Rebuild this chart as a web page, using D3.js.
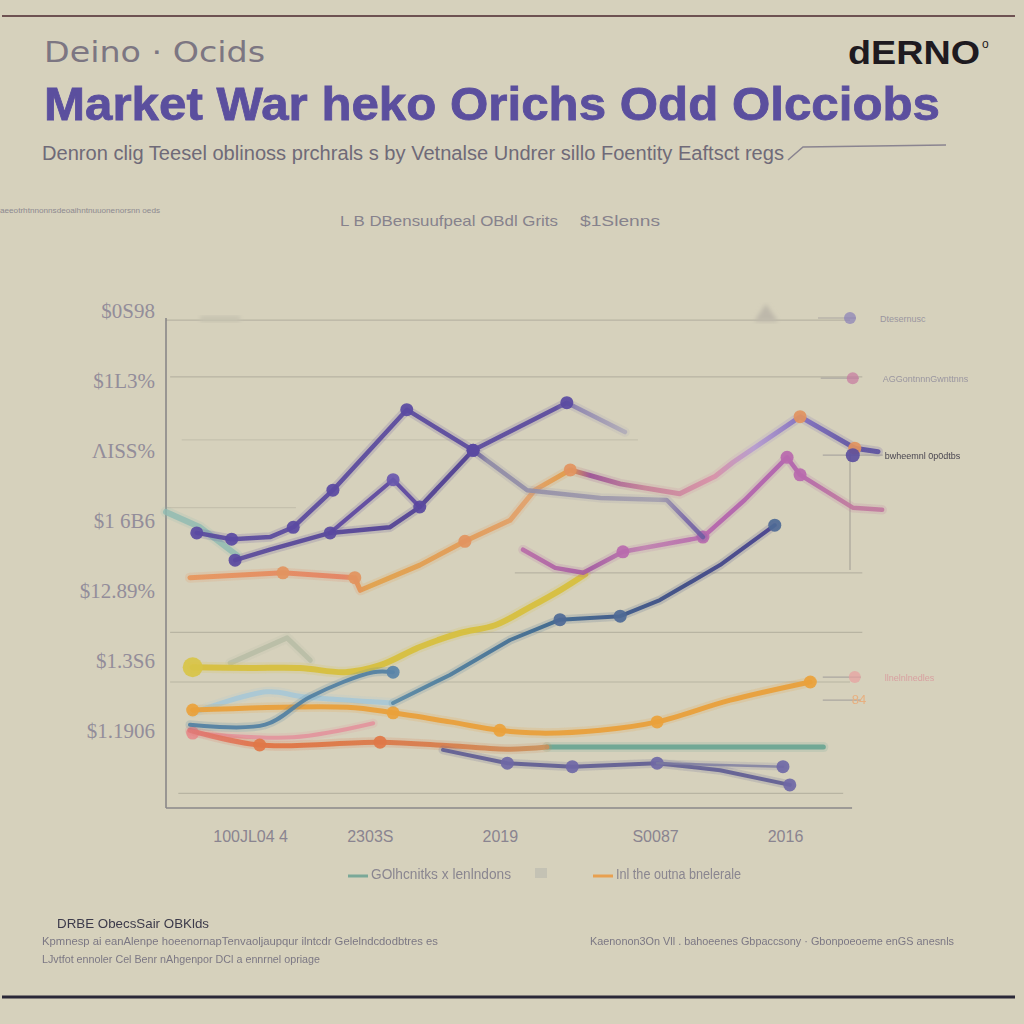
<!DOCTYPE html>
<html><head><meta charset="utf-8">
<script src="https://cdn.jsdelivr.net/npm/d3@7"></script>
<style>html,body{margin:0;padding:0;background:#d6d1bc;} svg{display:block}</style>
</head><body><svg id="c" width="1024" height="1024"></svg>
<script>
// ---------- DATA ----------
const xTickValues = [12.3, 29.8, 48.8, 71.5, 90.5];
const xTickLabels = ["100JL04 4", "2303S", "2019", "S0087", "2016"];
const yTickValues = [1, 2, 3, 4, 5, 6, 7];
const yTickLabels = ["$1.1906", "$1.3S6", "$12.89%", "$1 6B6", "ΛISS%", "$1L3%", "$0S98"];
const gridLevels = [6.87, 6.06, 5.16, 4.19, 3.26, 2.41, 1.70, 0.11];
const gridFrom   = [0, 0.6, 2.3, 0, 51, 0.6, 0.6, 1.8];
const gridTo     = [100, 101.8, 69, 19, 101.8, 101.8, 100, 99];

const tealLead     = [[0,4.13],[5.0,3.91],[10.4,3.51]];
const purpleHigh   = [[4.5,3.83],[9.6,3.74],[15.2,3.77],[18.6,3.91],[24.4,4.44],[35.2,5.59],[44.9,5.01],[58.6,5.69],[67.1,5.27]];
const purpleMid    = [[10.1,3.44],[15.2,3.59],[24.0,3.83],[32.7,3.91],[37.1,4.20],[44.9,5.01],[52.8,4.44],[63.5,4.33],[73.2,4.30],[78.5,3.77]];
const purpleBranch = [[24.0,3.83],[33.2,4.59],[37.1,4.20]];
const amberRose    = [[3.5,3.19],[17.1,3.26],[27.6,3.19],[28.4,3.01],[37.1,3.37],[43.7,3.71],[50.3,4.01],[53.9,4.44],[59.1,4.73],[66.4,4.53],[75.1,4.39],[80.3,4.64],[82.9,4.84],[92.7,5.49],[100.7,5.04],[104.1,4.99]];
const roseViolet   = [[52.2,3.59],[56.9,3.33],[61.0,3.26],[66.8,3.56],[78.5,3.77],[84.6,4.30],[90.8,4.91],[92.7,4.66],[100.4,4.19],[104.7,4.16]];
const steelShort   = [[3.5,1.09],[14.5,1.09],[21.1,1.49],[30.3,1.84],[33.2,1.84]];
const steelLong    = [[33.2,1.40],[41.5,1.80],[50.3,2.30],[57.6,2.59],[66.4,2.64],[72.2,2.87],[81.0,3.37],[89.0,3.94]];
const skyBlue      = [[3.9,1.26],[14.8,1.56],[20.0,1.49],[33.2,1.40]];
const mustard      = [[3.9,1.91],[12.3,1.90],[19.6,1.90],[26.2,1.84],[31.3,1.94],[37.1,2.20],[43.0,2.40],[48.1,2.51],[53.2,2.77],[57.6,3.01],[61.3,3.24]];
const sage         = [[9.4,1.97],[17.7,2.33],[21.1,2.01]];
const tangerine    = [[3.9,1.30],[26.5,1.34],[33.2,1.26],[41.5,1.13],[48.8,1.01],[54.7,0.97],[63.5,1.01],[71.8,1.13],[82.5,1.44],[94.2,1.70]];
const vermilion    = [[3.5,1.01],[13.7,0.80],[31.3,0.84],[41.5,0.79],[50.3,0.74],[55.7,0.77]];
const jade         = [[55.7,0.77],[96.1,0.77]];
const blush        = [[3.9,0.97],[18.6,0.91],[30.3,1.11]];
const indigoLow    = [[40.5,0.73],[49.9,0.54],[59.4,0.49],[71.8,0.54],[81.0,0.44],[91.2,0.23]];
const slateLow     = [[71.8,0.54],[90.2,0.49]];

const calloutLabels = ["Dtesernusc", "AGGontnnnGwnttnns", "bwheemnl 0p0dtbs", "llnelnlnedles", "84"];
const calloutPoints = [[100.0,6.90],[100.4,6.04],[100.7,4.94],[100.7,1.77],[100.7,1.44]];

const legendLabels = ["GOlhcnitks x lenlndons", "", "Inl the outna bnelerale"];

const footerTitle = "DRBE ObecsSair OBKlds";
const footerLeft = ["Kpmnesp ai eanAlenpe hoeenornapTenvaoljaupqur ilntcdr Gelelndcdodbtres es",
                    "LJvtfot ennoler Cel Benr nAhgenpor DCl a ennrnel opriage"];
const footerRight = "Kaenonon3On Vll . bahoeenes   Gbpaccsony  · Gbonpoeoeme enGS anesnls";

// ---------- CHART ----------
const svg = d3.select("#c");
svg.append("rect").attr("width",1024).attr("height",1024).attr("fill","#d6d1bc");

const x = d3.scaleLinear().domain([0,100]).range([166,850]);
const y = d3.scaleLinear().domain([-0.1,7.1]).range([808,304]);

const defs = svg.append("defs");
const soft = defs.append("filter").attr("id","soft").attr("x","-5%").attr("y","-5%").attr("width","110%").attr("height","110%");
soft.append("feGaussianBlur").attr("stdDeviation",0.6);
const blur = defs.append("filter").attr("id","blur");
blur.append("feGaussianBlur").attr("stdDeviation",2);

function grad(id, stops){
  const g = defs.append("linearGradient").attr("id",id).attr("gradientUnits","userSpaceOnUse")
    .attr("x1",x(0)).attr("x2",x(105)).attr("y1",0).attr("y2",0);
  stops.forEach(s=>g.append("stop").attr("offset",(s[0]/105)).attr("stop-color",s[1]));
  return "url(#"+id+")";
}
const gAmber = grad("gAmber",[[3,"#e8955a"],[26,"#e58060"],[30,"#e2a048"],[44,"#e39a55"],[53,"#e2a06a"],[59,"#e39840"],[62,"#9b4f96"],[70,"#c58097"],[80,"#d88fa8"],[86,"#b59ad0"],[93,"#7e6cc0"],[101,"#5a4e9f"]]);
const gRose  = grad("gRose",[[52,"#b96aa8"],[62,"#a458a2"],[70,"#c080b0"],[80,"#b462ac"],[91,"#b060ae"],[100,"#c0789e"]]);
const gSteel = grad("gSteel",[[33,"#5a8aa6"],[55,"#3f6a90"],[75,"#3f4e86"],[90,"#4a4290"]]);
const gVerm  = grad("gVerm",[[3,"#e07a7a"],[14,"#e27040"],[40,"#d87a48"],[56,"#c9905a"]]);
const gPMid  = grad("gPMid",[[10,"#5a4a9c"],[44,"#4e3f92"],[47,"#8e8aa6"],[72,"#a4a0ae"],[76,"#7a6aa8"],[79,"#6a5aa0"]]);
const gPHigh = grad("gPHigh",[[4,"#5a4a9e"],[57,"#5a4a9e"],[60,"#8e86b0"],[67,"#b0acb8"]]);

// headers
svg.append("line").attr("x1",2).attr("x2",1015).attr("y1",16).attr("y2",16).attr("stroke","#6e5252").attr("stroke-width",2);
svg.append("line").attr("x1",2).attr("x2",1015).attr("y1",997).attr("y2",997).attr("stroke","#2a2838").attr("stroke-width",3);

svg.append("text").attr("x",44).attr("y",62).attr("font-family","DejaVu Sans, sans-serif").attr("font-size",29)
  .attr("fill","#7c7682").attr("textLength",221).attr("lengthAdjust","spacingAndGlyphs").text("Deino · Ocids");
svg.append("text").attr("x",848).attr("y",64).attr("font-family","Liberation Sans, sans-serif").attr("font-weight","bold")
  .attr("font-size",33).attr("fill","#1e1a20").attr("textLength",132).attr("lengthAdjust","spacingAndGlyphs").text("dERNO");
svg.append("text").attr("x",982).attr("y",48).attr("font-family","Liberation Sans, sans-serif").attr("font-size",12).attr("fill","#1e1a20").text("o");

svg.append("text").attr("x",44).attr("y",120).attr("font-family","Liberation Sans, sans-serif").attr("font-weight","bold")
  .attr("font-size",47).attr("fill","#5b4f9e").attr("stroke","#5b4f9e").attr("stroke-width",0.8)
  .attr("textLength",896).attr("lengthAdjust","spacingAndGlyphs")
  .text("Market War heko Orichs Odd Olcciobs");

svg.append("text").attr("x",42).attr("y",160).attr("font-family","Liberation Sans, sans-serif")
  .attr("font-size",20).attr("fill","#6f6a78").attr("textLength",742).attr("lengthAdjust","spacingAndGlyphs")
  .text("Denron clig  Teesel oblinoss prchrals s by Vetnalse Undrer sillo Foentity Eaftsct regs");
svg.append("path").attr("d","M788,160 L803,147 L946,145").attr("fill","none").attr("stroke","#8a8490").attr("stroke-width",1.5);

svg.append("text").attr("x",0).attr("y",213).attr("font-family","Liberation Sans, sans-serif").attr("font-size",7)
  .attr("fill","#8d8990").attr("textLength",160).attr("lengthAdjust","spacingAndGlyphs").text("aeeotrhtnnonnsdeoaihntnuuonenorsnn oeds");
svg.append("text").attr("x",340).attr("y",226).attr("font-family","Liberation Sans, sans-serif").attr("font-size",15)
  .attr("fill","#86828c").attr("textLength",218).attr("lengthAdjust","spacingAndGlyphs").text("L B DBensuufpeal OBdl Grits");
svg.append("text").attr("x",580).attr("y",226).attr("font-family","Liberation Sans, sans-serif").attr("font-size",15)
  .attr("fill","#86828c").attr("textLength",80).attr("lengthAdjust","spacingAndGlyphs").text("$1Slenns");

// gridlines
svg.append("g").selectAll("line").data(gridLevels).join("line")
  .attr("x1",(d,i)=>x(gridFrom[i])).attr("x2",(d,i)=>x(gridTo[i]))
  .attr("y1",d=>y(d)).attr("y2",d=>y(d))
  .attr("stroke","#b5b1a0").attr("stroke-width",1.2).attr("opacity",(d,i)=>(i===2||i===3)?0.5:0.9);

// faint vertical on right
svg.append("line").attr("x1",x(100)).attr("x2",x(100)).attr("y1",y(5.0)).attr("y2",y(3.3)).attr("stroke","#a9a59a").attr("stroke-width",1.2);

// axes
svg.append("line").attr("x1",x(0)).attr("x2",x(0)).attr("y1",y(6.9)).attr("y2",y(-0.1)).attr("stroke","#858285").attr("stroke-width",1.5);
svg.append("line").attr("x1",x(0)).attr("x2",x(100.3)).attr("y1",y(-0.1)).attr("y2",y(-0.1)).attr("stroke","#8a878a").attr("stroke-width",1.5);

const yAxis = svg.append("g").attr("transform",`translate(${x(0)},0)`)
  .call(d3.axisLeft(y).tickValues(yTickValues).tickFormat((d,i)=>yTickLabels[i]).tickSize(0).tickPadding(11));
yAxis.select(".domain").remove();
yAxis.selectAll("text").attr("font-family","Liberation Serif, serif").attr("font-size",21).attr("fill","#938d9a");

const xAxis = svg.append("g").attr("transform",`translate(0,${y(-0.1)})`)
  .call(d3.axisBottom(x).tickValues(xTickValues).tickFormat((d,i)=>xTickLabels[i]).tickSize(0).tickPadding(23));
xAxis.select(".domain").remove();
xAxis.selectAll("text").attr("font-family","Liberation Sans, sans-serif").attr("font-size",16).attr("fill","#8a8490");

// faint smudges
svg.append("path").attr("d",`M${x(86)},${y(6.85)} L${x(87.7)},${y(7.1)} L${x(89.5)},${y(6.85)} Z`).attr("fill","#bdb8aa").attr("filter","url(#blur)");
svg.append("rect").attr("x",x(5)).attr("y",y(6.93)).attr("width",40).attr("height",6).attr("fill","#c6c2b0").attr("filter","url(#blur)");

// series
const series = [
  {d:tealLead,     c:"#8fbab2", w:6,   o:0.8,  curve:d3.curveLinear, m:[]},
  {d:sage,         c:"#b7bba4", w:5,   o:0.8,  curve:d3.curveLinear, m:[]},
  {d:skyBlue,      c:"#a6c8d6", w:5,   o:0.9,  curve:d3.curveCatmullRom, m:[]},
  {d:blush,        c:"#e2949c", w:4,   o:0.9,  curve:d3.curveCatmullRom, m:[0]},
  {d:jade,         c:"#6aa694", w:5,   o:0.95, curve:d3.curveLinear, m:[]},
  {d:vermilion,    c:gVerm,     w:5,   o:0.9,  curve:d3.curveCatmullRom, m:[1,2], mc:"#e07848"},
  {d:indigoLow,    c:"#5e5c92", w:4,   o:0.9,  curve:d3.curveLinear, m:[1,2,3,5], mc:"#6f68a6"},
  {d:slateLow,     c:"#7c7aa0", w:2.5, o:0.8,  curve:d3.curveLinear, m:[1], mc:"#6f68a6"},
  {d:tangerine,    c:"#e8a03c", w:5,   o:0.95, curve:d3.curveCatmullRom, m:[0,2,4,7,9]},
  {d:mustard,      c:"#d6c040", w:6,   o:0.95, curve:d3.curveCatmullRom, m:[0], big:true},
  {d:steelShort,   c:"#4f7ea2", w:4,   o:0.9,  curve:d3.curveCatmullRom, m:[4], mc:"#5a84a8"},
  {d:steelLong,    c:gSteel,    w:4,   o:0.95, curve:d3.curveLinear, m:[3,4,7], mc:"#4f6a96"},
  {d:amberRose,    c:gAmber,    w:5,   o:0.9,  curve:d3.curveLinear, m:[1,2,5,8,13,14], mc:"#e29460"},
  {d:roseViolet,   c:gRose,     w:4.5, o:0.9,  curve:d3.curveLinear, m:[3,4,6,7], mc:"#b86aae"},
  {d:purpleMid,    c:gPMid,     w:4.5, o:0.92, curve:d3.curveLinear, m:[0,2,4,5], mc:"#5a4aa0"},
  {d:purpleBranch, c:"#5a46a0", w:4,   o:0.9,  curve:d3.curveLinear, m:[1], mc:"#6a58ae"},
  {d:purpleHigh,   c:gPHigh,    w:4.5, o:0.92, curve:d3.curveLinear, m:[0,1,3,4,5,6,7], mc:"#5a4aa2"}
];

const markerColors = {"#e8a03c":"#eaa23c","#d6c040":"#d8c448","#e2949c":"#e68c8c"};
const gL = svg.append("g").attr("filter","url(#soft)");
series.forEach(s=>{
  const line = d3.line().x(p=>x(p[0])).y(p=>y(p[1])).curve(s.curve);
  gL.append("path").attr("d",line(s.d)).attr("fill","none").attr("stroke",s.c)
    .attr("stroke-width",s.w+5).attr("stroke-opacity",0.18).attr("stroke-linecap","round").attr("stroke-linejoin","round");
  gL.append("path").attr("d",line(s.d)).attr("fill","none").attr("stroke",s.c)
    .attr("stroke-width",s.w).attr("stroke-opacity",s.o).attr("stroke-linecap","round").attr("stroke-linejoin","round");
  const mc = s.mc || markerColors[s.c] || s.c;
  gL.selectAll(null).data(s.m.map(i=>s.d[i])).join("circle")
    .attr("cx",p=>x(p[0])).attr("cy",p=>y(p[1])).attr("r",s.big?10:6.5)
    .attr("fill",mc).attr("opacity",0.92);
});

// callouts on right
const calloutColors = ["#8a80b8","#c77aa0","#5a4e9e","#e8a0a0","#e8b070"];
const calloutText = ["#9a96a0","#9a96a0","#4a4650","#d8a0a0","#e8b080"];
calloutPoints.forEach((p,i)=>{
  svg.append("line").attr("x1",x(p[0])-32).attr("x2",x(p[0])+(i===2?28:6)).attr("y1",y(p[1])).attr("y2",y(p[1]))
    .attr("stroke","#aaa6a0").attr("stroke-width",1.2);
  if(i<4) svg.append("circle").attr("cx",x(p[0])+(i===2?-2:0)).attr("cy",y(p[1])).attr("r",i===2?7:6)
    .attr("fill",calloutColors[i]).attr("opacity",i===2?0.9:0.7).attr("filter","url(#soft)");
  svg.append("text").attr("x",x(p[0])+(i===4?-3:30)).attr("y",y(p[1])+4)
    .attr("font-family","Liberation Sans, sans-serif").attr("font-size",i===4?13:9)
    .attr("fill",calloutText[i]).text(calloutLabels[i]);
});

// legend
const legendColors = ["#7aa898", null, "#e8a050"];
const legendX = [348, 535, 593];
legendLabels.forEach((t,i)=>{
  if(legendColors[i]){
    svg.append("line").attr("x1",legendX[i]).attr("x2",legendX[i]+20).attr("y1",876).attr("y2",876)
      .attr("stroke",legendColors[i]).attr("stroke-width",3);
    svg.append("text").attr("x",legendX[i]+23).attr("y",879).attr("font-family","Liberation Sans, sans-serif")
      .attr("font-size",14).attr("fill","#8a8690").attr("textLength",i===0?140:125).attr("lengthAdjust","spacingAndGlyphs").text(t);
  } else {
    svg.append("rect").attr("x",legendX[i]).attr("y",868).attr("width",12).attr("height",10).attr("fill","#c4c2b4");
  }
});

// footer
svg.append("text").attr("x",57).attr("y",928).attr("font-family","Liberation Sans, sans-serif").attr("font-size",13)
  .attr("fill","#3c3a4a").attr("textLength",152).attr("lengthAdjust","spacingAndGlyphs").text(footerTitle);
footerLeft.forEach((t,i)=>{
  svg.append("text").attr("x",42).attr("y",945+i*18).attr("font-family","Liberation Sans, sans-serif").attr("font-size",11)
    .attr("fill","#7c7884").attr("textLength",i===0?396:278).attr("lengthAdjust","spacingAndGlyphs").text(t);
});
svg.append("text").attr("x",590).attr("y",945).attr("font-family","Liberation Sans, sans-serif").attr("font-size",11)
  .attr("fill","#7c7884").attr("textLength",364).attr("lengthAdjust","spacingAndGlyphs").text(footerRight);
</script></body></html>
